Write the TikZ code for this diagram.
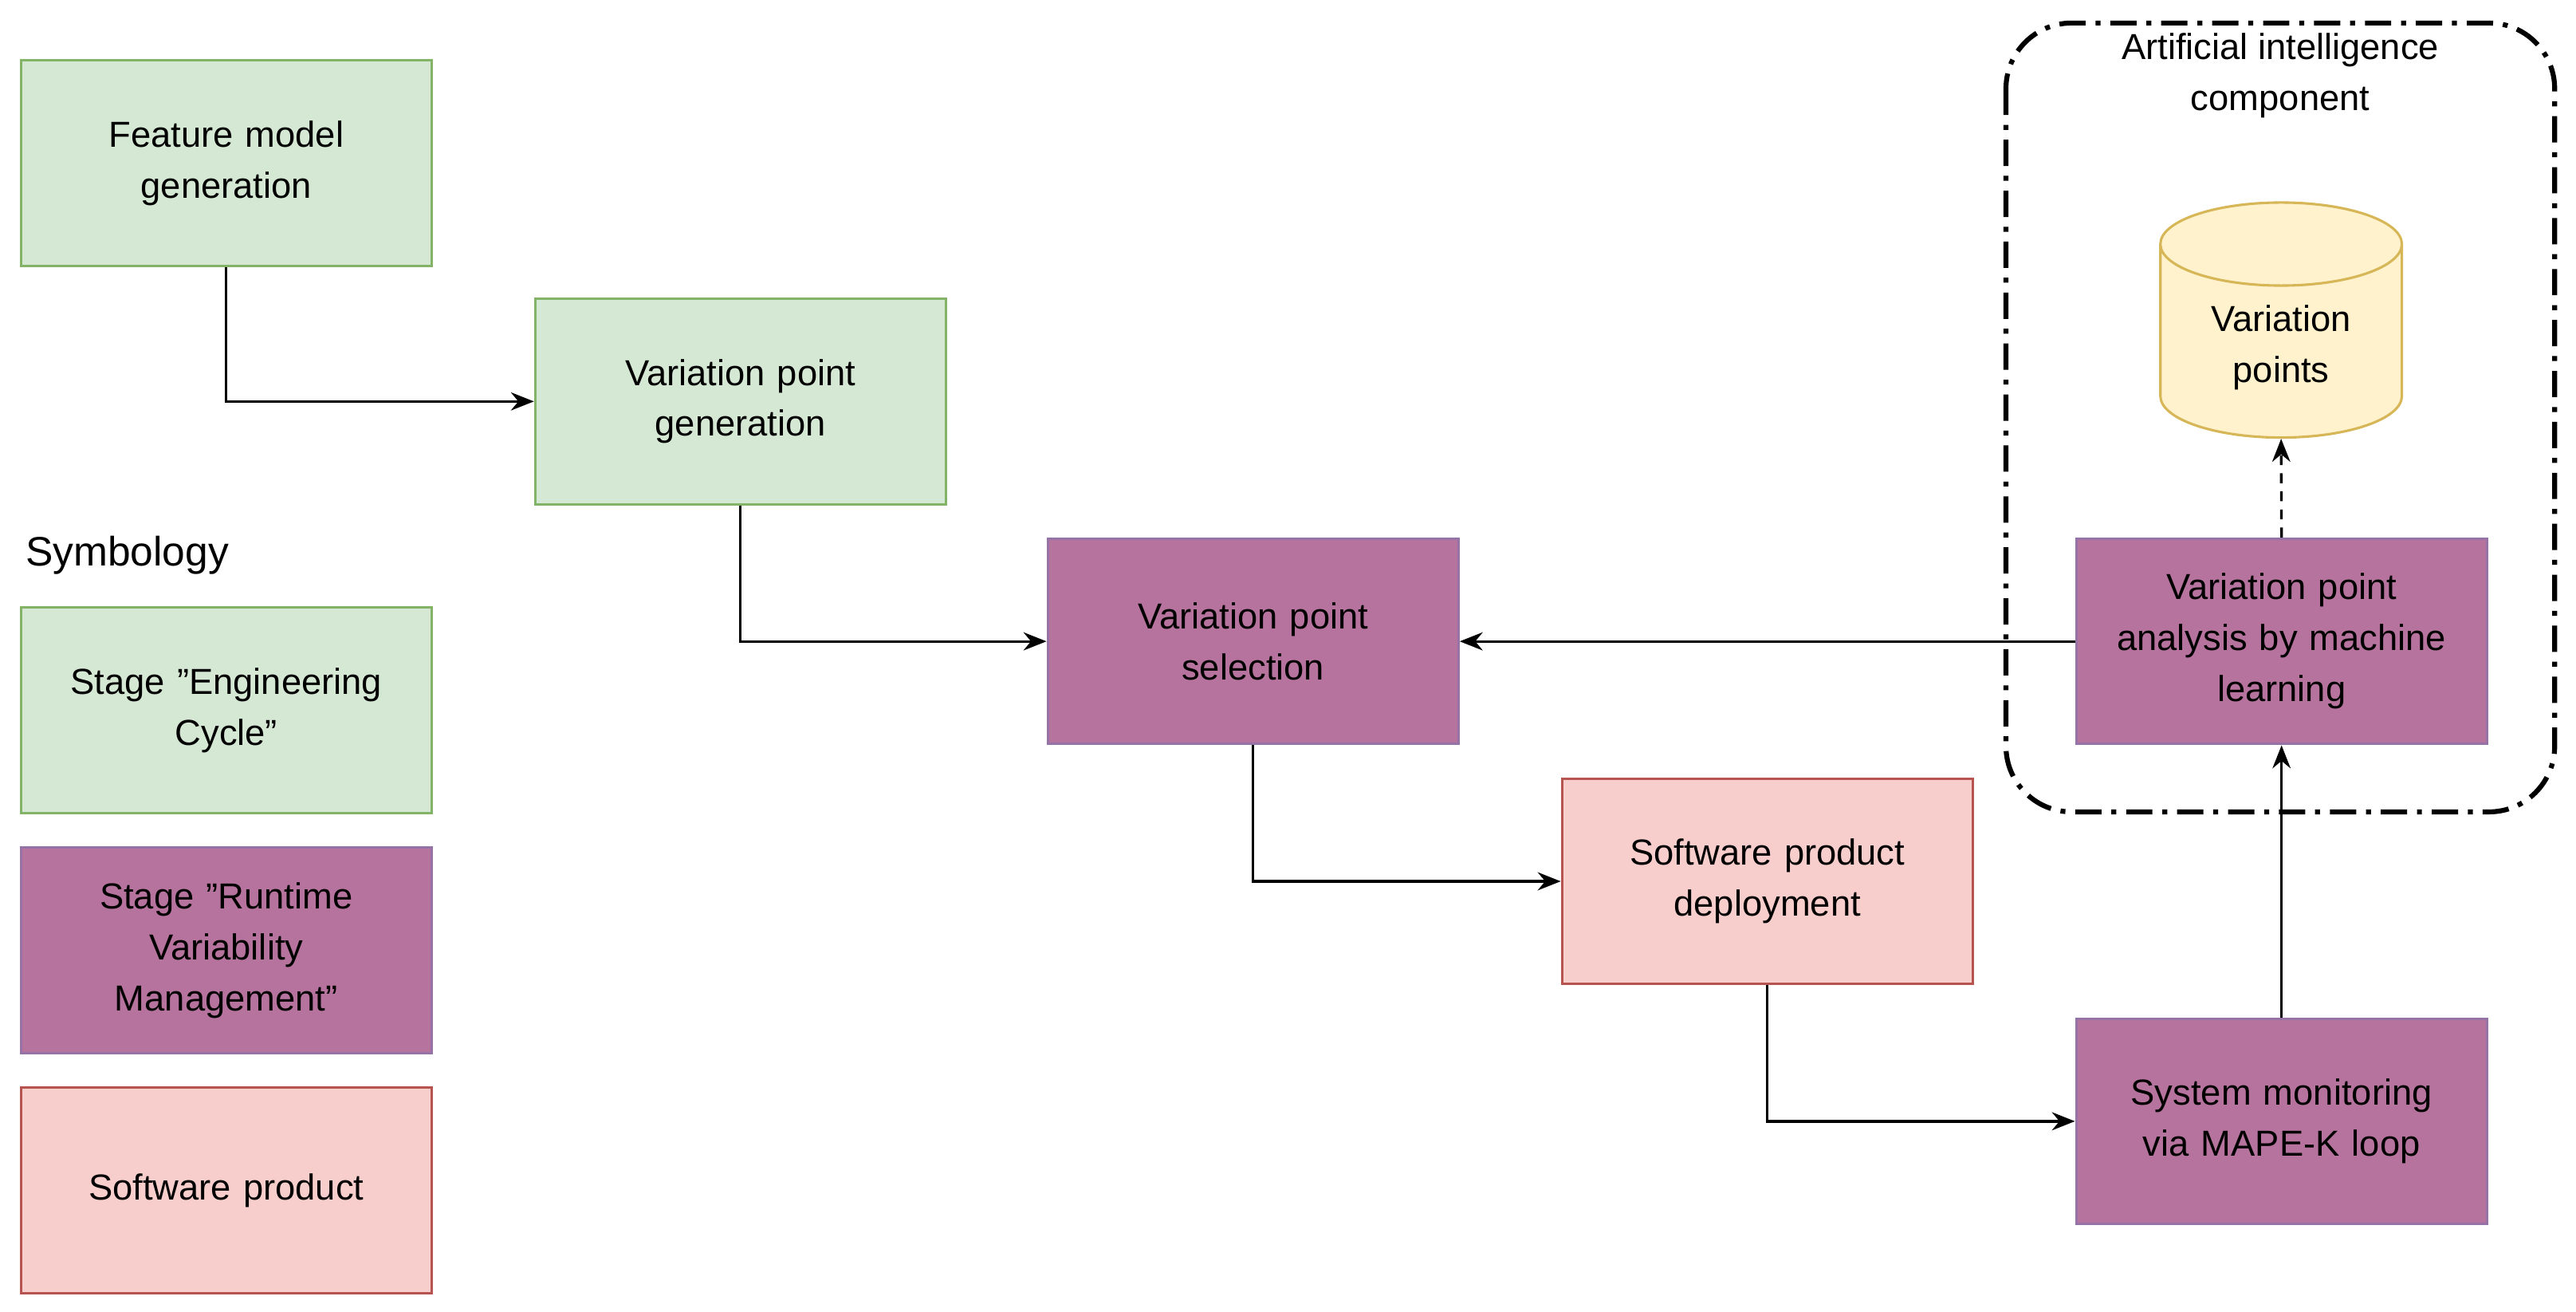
\documentclass[tikz,border=0pt]{standalone}
\usepackage{fontspec}
\setmainfont{Liberation Sans}
\usetikzlibrary{shapes.geometric,arrows.meta}
\definecolor{gF}{HTML}{D5E8D4}\definecolor{gS}{HTML}{82B366}
\definecolor{pF}{HTML}{B5739D}\definecolor{pS}{HTML}{9673A6}
\definecolor{rF}{HTML}{F8CECC}\definecolor{rS}{HTML}{B85450}
\definecolor{yF}{HTML}{FFF2CC}\definecolor{yS}{HTML}{D6B656}
\begin{document}
\begin{tikzpicture}[x=1pt,y=-1pt,
  font=\fontsize{22}{31}\selectfont,
  box/.style={draw, line width=1.5pt, minimum width=250pt, minimum height=125pt, align=center, text width=240pt, anchor=north west},
  g/.style={box, fill=gF, draw=gS},
  p/.style={box, fill=pF, draw=pS},
  r/.style={box, fill=rF, draw=rS},
  arr/.style={-{Stealth[length=14pt,width=11pt]}, line width=1.6pt}]
\useasboundingbox (0,0) rectangle (1568,798);
\draw[line width=3pt, dash pattern=on 16pt off 6pt on 3pt off 6pt, rounded corners=40pt] (1221,14) rectangle (1555,494);
\node[align=center] (ai) at (1388,46) {Artificial intelligence\\component};
\node[g] (fm) at (12,36) {Feature model\\generation};
\node[g] (vg) at (325,181) {Variation point\\generation};
\node[anchor=west, font=\fontsize{25}{31}\selectfont] (sym) at (12,338) {Symbology};
\node[g] (l1) at (12,369) {Stage "Engineering\\Cycle"};
\node[p] (l2) at (12,515) {Stage "Runtime\\Variability\\Management"};
\node[r] (l3) at (12,661) {Software product};
\node[p] (vs) at (637,327) {Variation point\\selection};
\node[r] (sd) at (950,473) {Software product\\deployment};
\node[p] (sm) at (1263,619) {System monitoring\\via MAPE-K loop};
\node[p] (ml) at (1263,327) {Variation point\\analysis by machine\\learning};
\node[cylinder, shape border rotate=90, draw=yS, fill=yF, line width=1.5pt, minimum width=147pt, minimum height=143pt, aspect=0.55, align=center] (db) at (1388.5,211.5) {Variation\\points};
\draw[arr] (fm.south) |- (vg.west);
\draw[arr] (vg.south) |- (vs.west);
\draw[arr] (ml.west) -- (vs.east);
\draw[arr] (vs.south) |- (sd.west);
\draw[arr] (sd.south) |- (sm.west);
\draw[arr] (sm.north) -- (ml.south);
\draw[arr, dashed, dash pattern=on 6pt off 5pt] (ml.north) -- (db.south);
\end{tikzpicture}
\end{document}
